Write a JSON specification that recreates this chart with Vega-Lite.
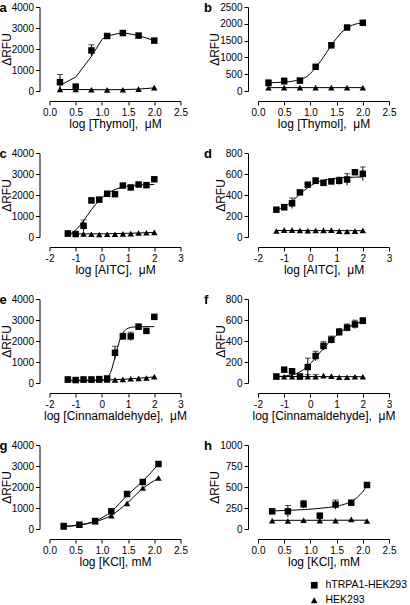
{
"$schema": "https://vega.github.io/schema/vega-lite/v6.json",
"padding": {"left": -0.5, "top": 2, "right": 0, "bottom": 0},
"bounds": "flush",
"columns": 2,
"spacing": {"row": 62, "column": 77.5},
"datasets": {
"points": [
{"p":"a","s":"hTRPA1-HEK293","x":0.2,"y":420,"lo":50,"hi":790},
{"p":"a","s":"hTRPA1-HEK293","x":0.5,"y":210},
{"p":"a","s":"hTRPA1-HEK293","x":0.8,"y":1930,"lo":1660,"hi":2200},
{"p":"a","s":"hTRPA1-HEK293","x":1.1,"y":2620},
{"p":"a","s":"hTRPA1-HEK293","x":1.4,"y":2760,"lo":2670,"hi":2850},
{"p":"a","s":"hTRPA1-HEK293","x":1.7,"y":2640},
{"p":"a","s":"hTRPA1-HEK293","x":2.0,"y":2400},
{"p":"a","s":"HEK293","x":0.2,"y":80},
{"p":"a","s":"HEK293","x":0.5,"y":80},
{"p":"a","s":"HEK293","x":0.8,"y":60},
{"p":"a","s":"HEK293","x":1.1,"y":55},
{"p":"a","s":"HEK293","x":1.4,"y":60},
{"p":"a","s":"HEK293","x":1.7,"y":90},
{"p":"a","s":"HEK293","x":2.0,"y":160},
{"p":"b","s":"hTRPA1-HEK293","x":0.2,"y":240,"lo":150,"hi":330},
{"p":"b","s":"hTRPA1-HEK293","x":0.5,"y":290,"lo":190,"hi":390},
{"p":"b","s":"hTRPA1-HEK293","x":0.8,"y":310},
{"p":"b","s":"hTRPA1-HEK293","x":1.1,"y":720,"lo":670,"hi":770},
{"p":"b","s":"hTRPA1-HEK293","x":1.4,"y":1360,"lo":1290,"hi":1430},
{"p":"b","s":"hTRPA1-HEK293","x":1.7,"y":1890},
{"p":"b","s":"hTRPA1-HEK293","x":2.0,"y":2030},
{"p":"b","s":"HEK293","x":0.2,"y":100},
{"p":"b","s":"HEK293","x":0.5,"y":100},
{"p":"b","s":"HEK293","x":0.8,"y":100},
{"p":"b","s":"HEK293","x":1.1,"y":100},
{"p":"b","s":"HEK293","x":1.4,"y":100},
{"p":"b","s":"HEK293","x":1.7,"y":100},
{"p":"b","s":"HEK293","x":2.0,"y":95},
{"p":"c","s":"hTRPA1-HEK293","x":-1.3,"y":170},
{"p":"c","s":"hTRPA1-HEK293","x":-1.0,"y":140},
{"p":"c","s":"hTRPA1-HEK293","x":-0.7,"y":535,"lo":260,"hi":810},
{"p":"c","s":"hTRPA1-HEK293","x":-0.4,"y":1740,"lo":1620,"hi":1860},
{"p":"c","s":"hTRPA1-HEK293","x":-0.1,"y":1780},
{"p":"c","s":"hTRPA1-HEK293","x":0.2,"y":2060},
{"p":"c","s":"hTRPA1-HEK293","x":0.5,"y":2040},
{"p":"c","s":"hTRPA1-HEK293","x":0.8,"y":2450},
{"p":"c","s":"hTRPA1-HEK293","x":1.1,"y":2360},
{"p":"c","s":"hTRPA1-HEK293","x":1.4,"y":2500},
{"p":"c","s":"hTRPA1-HEK293","x":1.7,"y":2470},
{"p":"c","s":"hTRPA1-HEK293","x":2.0,"y":2750},
{"p":"c","s":"HEK293","x":-1.3,"y":150},
{"p":"c","s":"HEK293","x":-1.0,"y":150},
{"p":"c","s":"HEK293","x":-0.7,"y":140},
{"p":"c","s":"HEK293","x":-0.4,"y":130},
{"p":"c","s":"HEK293","x":-0.1,"y":120},
{"p":"c","s":"HEK293","x":0.2,"y":130},
{"p":"c","s":"HEK293","x":0.5,"y":130},
{"p":"c","s":"HEK293","x":0.8,"y":150},
{"p":"c","s":"HEK293","x":1.1,"y":160},
{"p":"c","s":"HEK293","x":1.4,"y":190},
{"p":"c","s":"HEK293","x":1.7,"y":200},
{"p":"c","s":"HEK293","x":2.0,"y":220},
{"p":"d","s":"hTRPA1-HEK293","x":-1.3,"y":260},
{"p":"d","s":"hTRPA1-HEK293","x":-1.0,"y":283,"lo":255,"hi":311},
{"p":"d","s":"hTRPA1-HEK293","x":-0.7,"y":321,"lo":271,"hi":371},
{"p":"d","s":"hTRPA1-HEK293","x":-0.4,"y":425},
{"p":"d","s":"hTRPA1-HEK293","x":-0.1,"y":498,"lo":483,"hi":513},
{"p":"d","s":"hTRPA1-HEK293","x":0.2,"y":535,"lo":505,"hi":565},
{"p":"d","s":"hTRPA1-HEK293","x":0.5,"y":516},
{"p":"d","s":"hTRPA1-HEK293","x":0.8,"y":529},
{"p":"d","s":"hTRPA1-HEK293","x":1.1,"y":535,"lo":500,"hi":570},
{"p":"d","s":"hTRPA1-HEK293","x":1.4,"y":548,"lo":493,"hi":603},
{"p":"d","s":"hTRPA1-HEK293","x":1.7,"y":617},
{"p":"d","s":"hTRPA1-HEK293","x":2.0,"y":602,"lo":537,"hi":667},
{"p":"d","s":"HEK293","x":-1.3,"y":57},
{"p":"d","s":"HEK293","x":-1.0,"y":65},
{"p":"d","s":"HEK293","x":-0.7,"y":65},
{"p":"d","s":"HEK293","x":-0.4,"y":62},
{"p":"d","s":"HEK293","x":-0.1,"y":60},
{"p":"d","s":"HEK293","x":0.2,"y":62},
{"p":"d","s":"HEK293","x":0.5,"y":63},
{"p":"d","s":"HEK293","x":0.8,"y":66},
{"p":"d","s":"HEK293","x":1.1,"y":56},
{"p":"d","s":"HEK293","x":1.4,"y":53},
{"p":"d","s":"HEK293","x":1.7,"y":56},
{"p":"d","s":"HEK293","x":2.0,"y":62},
{"p":"e","s":"hTRPA1-HEK293","x":-1.3,"y":170},
{"p":"e","s":"hTRPA1-HEK293","x":-1.0,"y":140},
{"p":"e","s":"hTRPA1-HEK293","x":-0.7,"y":170},
{"p":"e","s":"hTRPA1-HEK293","x":-0.4,"y":170},
{"p":"e","s":"hTRPA1-HEK293","x":-0.1,"y":185},
{"p":"e","s":"hTRPA1-HEK293","x":0.2,"y":215},
{"p":"e","s":"hTRPA1-HEK293","x":0.5,"y":1440,"lo":1130,"hi":1750},
{"p":"e","s":"hTRPA1-HEK293","x":0.8,"y":2220,"lo":2070,"hi":2370},
{"p":"e","s":"hTRPA1-HEK293","x":1.1,"y":2220,"lo":2020,"hi":2420},
{"p":"e","s":"hTRPA1-HEK293","x":1.4,"y":2680,"lo":2560,"hi":2800},
{"p":"e","s":"hTRPA1-HEK293","x":1.7,"y":2480},
{"p":"e","s":"hTRPA1-HEK293","x":2.0,"y":3150},
{"p":"e","s":"HEK293","x":-1.3,"y":150},
{"p":"e","s":"HEK293","x":-1.0,"y":130},
{"p":"e","s":"HEK293","x":-0.7,"y":140},
{"p":"e","s":"HEK293","x":-0.4,"y":140},
{"p":"e","s":"HEK293","x":-0.1,"y":150},
{"p":"e","s":"HEK293","x":0.2,"y":150},
{"p":"e","s":"HEK293","x":0.5,"y":150},
{"p":"e","s":"HEK293","x":0.8,"y":170},
{"p":"e","s":"HEK293","x":1.1,"y":200},
{"p":"e","s":"HEK293","x":1.4,"y":220},
{"p":"e","s":"HEK293","x":1.7,"y":240},
{"p":"e","s":"HEK293","x":2.0,"y":300},
{"p":"f","s":"hTRPA1-HEK293","x":-1.3,"y":62},
{"p":"f","s":"hTRPA1-HEK293","x":-1.0,"y":127},
{"p":"f","s":"hTRPA1-HEK293","x":-0.7,"y":112},
{"p":"f","s":"hTRPA1-HEK293","x":-0.4,"y":62},
{"p":"f","s":"hTRPA1-HEK293","x":-0.1,"y":152,"lo":67,"hi":237},
{"p":"f","s":"hTRPA1-HEK293","x":0.2,"y":257,"lo":212,"hi":302},
{"p":"f","s":"hTRPA1-HEK293","x":0.5,"y":353,"lo":313,"hi":393},
{"p":"f","s":"hTRPA1-HEK293","x":0.8,"y":412,"lo":377,"hi":447},
{"p":"f","s":"hTRPA1-HEK293","x":1.1,"y":484,"lo":449,"hi":519},
{"p":"f","s":"hTRPA1-HEK293","x":1.4,"y":527,"lo":492,"hi":562},
{"p":"f","s":"hTRPA1-HEK293","x":1.7,"y":558,"lo":518,"hi":598},
{"p":"f","s":"hTRPA1-HEK293","x":2.0,"y":592,"lo":562,"hi":622},
{"p":"f","s":"HEK293","x":-1.3,"y":60},
{"p":"f","s":"HEK293","x":-1.0,"y":60},
{"p":"f","s":"HEK293","x":-0.7,"y":60},
{"p":"f","s":"HEK293","x":-0.4,"y":60},
{"p":"f","s":"HEK293","x":-0.1,"y":60,"lo":40,"hi":80},
{"p":"f","s":"HEK293","x":0.2,"y":60,"lo":40,"hi":80},
{"p":"f","s":"HEK293","x":0.5,"y":70},
{"p":"f","s":"HEK293","x":0.8,"y":65},
{"p":"f","s":"HEK293","x":1.1,"y":55},
{"p":"f","s":"HEK293","x":1.4,"y":55},
{"p":"f","s":"HEK293","x":1.7,"y":60},
{"p":"f","s":"HEK293","x":2.0,"y":60},
{"p":"g","s":"hTRPA1-HEK293","x":0.27,"y":143},
{"p":"g","s":"hTRPA1-HEK293","x":0.57,"y":206},
{"p":"g","s":"hTRPA1-HEK293","x":0.87,"y":381},
{"p":"g","s":"hTRPA1-HEK293","x":1.18,"y":841},
{"p":"g","s":"hTRPA1-HEK293","x":1.48,"y":1667},
{"p":"g","s":"hTRPA1-HEK293","x":1.78,"y":2238},
{"p":"g","s":"hTRPA1-HEK293","x":2.08,"y":3095},
{"p":"g","s":"HEK293","x":0.27,"y":95},
{"p":"g","s":"HEK293","x":0.57,"y":180},
{"p":"g","s":"HEK293","x":0.87,"y":350},
{"p":"g","s":"HEK293","x":1.18,"y":635},
{"p":"g","s":"HEK293","x":1.48,"y":1222},
{"p":"g","s":"HEK293","x":1.78,"y":1952},
{"p":"g","s":"HEK293","x":2.08,"y":2429},
{"p":"h","s":"hTRPA1-HEK293","x":0.27,"y":210},
{"p":"h","s":"hTRPA1-HEK293","x":0.57,"y":210,"lo":140,"hi":280},
{"p":"h","s":"hTRPA1-HEK293","x":0.87,"y":294,"lo":249,"hi":339},
{"p":"h","s":"hTRPA1-HEK293","x":1.18,"y":159},
{"p":"h","s":"hTRPA1-HEK293","x":1.48,"y":290,"lo":235,"hi":345},
{"p":"h","s":"hTRPA1-HEK293","x":1.78,"y":313},
{"p":"h","s":"hTRPA1-HEK293","x":2.08,"y":524},
{"p":"h","s":"HEK293","x":0.27,"y":99},
{"p":"h","s":"HEK293","x":0.57,"y":95},
{"p":"h","s":"HEK293","x":0.87,"y":105},
{"p":"h","s":"HEK293","x":1.18,"y":100},
{"p":"h","s":"HEK293","x":1.48,"y":100},
{"p":"h","s":"HEK293","x":1.78,"y":115},
{"p":"h","s":"HEK293","x":2.08,"y":95}
],
"curves": [
{"p":"a","s":"T","x":0.2,"y":270},{"p":"a","s":"T","x":0.5,"y":660},{"p":"a","s":"T","x":0.8,"y":1650},{"p":"a","s":"T","x":1.0,"y":2450},{"p":"a","s":"T","x":1.1,"y":2620},{"p":"a","s":"T","x":1.4,"y":2780},{"p":"a","s":"T","x":1.7,"y":2640},{"p":"a","s":"T","x":2.0,"y":2400},
{"p":"a","s":"H","x":0.2,"y":70},{"p":"a","s":"H","x":0.5,"y":70},{"p":"a","s":"H","x":0.8,"y":65},{"p":"a","s":"H","x":1.1,"y":60},{"p":"a","s":"H","x":1.4,"y":65},{"p":"a","s":"H","x":1.7,"y":90},{"p":"a","s":"H","x":2.0,"y":150},
{"p":"b","s":"T","x":0.2,"y":245},{"p":"b","s":"T","x":0.4,"y":255},{"p":"b","s":"T","x":0.6,"y":280},{"p":"b","s":"T","x":0.8,"y":340},{"p":"b","s":"T","x":0.9,"y":400},{"p":"b","s":"T","x":1.0,"y":520},{"p":"b","s":"T","x":1.1,"y":700},{"p":"b","s":"T","x":1.2,"y":900},{"p":"b","s":"T","x":1.3,"y":1130},{"p":"b","s":"T","x":1.4,"y":1360},{"p":"b","s":"T","x":1.5,"y":1570},{"p":"b","s":"T","x":1.6,"y":1750},{"p":"b","s":"T","x":1.7,"y":1880},{"p":"b","s":"T","x":1.8,"y":1960},{"p":"b","s":"T","x":1.9,"y":2005},{"p":"b","s":"T","x":2.0,"y":2030},
{"p":"b","s":"H","x":0.2,"y":100},{"p":"b","s":"H","x":2.0,"y":100},
{"p":"c","s":"T","x":-1.3,"y":100},{"p":"c","s":"T","x":-1.0,"y":330},{"p":"c","s":"T","x":-0.7,"y":780},{"p":"c","s":"T","x":-0.4,"y":1300},{"p":"c","s":"T","x":-0.1,"y":1750},{"p":"c","s":"T","x":0.2,"y":2060},{"p":"c","s":"T","x":0.5,"y":2260},{"p":"c","s":"T","x":0.8,"y":2380},{"p":"c","s":"T","x":1.1,"y":2440},{"p":"c","s":"T","x":1.4,"y":2475},{"p":"c","s":"T","x":1.7,"y":2490},{"p":"c","s":"T","x":2.0,"y":2500},
{"p":"c","s":"H","x":-1.3,"y":145},{"p":"c","s":"H","x":0.0,"y":150},{"p":"c","s":"H","x":1.0,"y":175},{"p":"c","s":"H","x":2.0,"y":215},
{"p":"d","s":"T","x":-1.3,"y":255},{"p":"d","s":"T","x":-1.0,"y":290},{"p":"d","s":"T","x":-0.7,"y":340},{"p":"d","s":"T","x":-0.4,"y":410},{"p":"d","s":"T","x":-0.1,"y":470},{"p":"d","s":"T","x":0.2,"y":515},{"p":"d","s":"T","x":0.5,"y":540},{"p":"d","s":"T","x":0.8,"y":555},{"p":"d","s":"T","x":1.1,"y":563},{"p":"d","s":"T","x":1.4,"y":567},{"p":"d","s":"T","x":1.7,"y":570},{"p":"d","s":"T","x":2.0,"y":572},
{"p":"d","s":"H","x":-1.3,"y":62},{"p":"d","s":"H","x":2.0,"y":60},
{"p":"e","s":"T","x":-1.3,"y":110},{"p":"e","s":"T","x":-0.5,"y":110},{"p":"e","s":"T","x":0.0,"y":120},{"p":"e","s":"T","x":0.1,"y":160},{"p":"e","s":"T","x":0.2,"y":240},{"p":"e","s":"T","x":0.3,"y":420},{"p":"e","s":"T","x":0.4,"y":760},{"p":"e","s":"T","x":0.5,"y":1230},{"p":"e","s":"T","x":0.6,"y":1700},{"p":"e","s":"T","x":0.7,"y":2100},{"p":"e","s":"T","x":0.8,"y":2380},{"p":"e","s":"T","x":0.9,"y":2530},{"p":"e","s":"T","x":1.0,"y":2610},{"p":"e","s":"T","x":1.2,"y":2665},{"p":"e","s":"T","x":1.5,"y":2680},{"p":"e","s":"T","x":2.0,"y":2685},
{"p":"e","s":"H","x":-1.3,"y":130},{"p":"e","s":"H","x":0.0,"y":140},{"p":"e","s":"H","x":1.0,"y":190},{"p":"e","s":"H","x":2.0,"y":290},
{"p":"f","s":"T","x":-1.3,"y":62},{"p":"f","s":"T","x":-1.0,"y":66},{"p":"f","s":"T","x":-0.7,"y":78},{"p":"f","s":"T","x":-0.4,"y":105},{"p":"f","s":"T","x":-0.1,"y":160},{"p":"f","s":"T","x":0.2,"y":240},{"p":"f","s":"T","x":0.5,"y":330},{"p":"f","s":"T","x":0.8,"y":410},{"p":"f","s":"T","x":1.1,"y":475},{"p":"f","s":"T","x":1.4,"y":525},{"p":"f","s":"T","x":1.7,"y":560},{"p":"f","s":"T","x":2.0,"y":585},
{"p":"f","s":"H","x":-1.3,"y":62},{"p":"f","s":"H","x":2.0,"y":60},
{"p":"g","s":"T","x":0.27,"y":130},{"p":"g","s":"T","x":0.57,"y":195},{"p":"g","s":"T","x":0.87,"y":380},{"p":"g","s":"T","x":1.18,"y":830},{"p":"g","s":"T","x":1.48,"y":1600},{"p":"g","s":"T","x":1.78,"y":2280},{"p":"g","s":"T","x":2.08,"y":3080},
{"p":"g","s":"H","x":0.27,"y":110},{"p":"g","s":"H","x":0.57,"y":185},{"p":"g","s":"H","x":0.87,"y":345},{"p":"g","s":"H","x":1.18,"y":650},{"p":"g","s":"H","x":1.48,"y":1230},{"p":"g","s":"H","x":1.78,"y":1930},{"p":"g","s":"H","x":2.08,"y":2420},
{"p":"h","s":"T","x":0.27,"y":215},{"p":"h","s":"T","x":0.6,"y":222},{"p":"h","s":"T","x":0.9,"y":232},{"p":"h","s":"T","x":1.2,"y":247},{"p":"h","s":"T","x":1.5,"y":272},{"p":"h","s":"T","x":1.7,"y":305},{"p":"h","s":"T","x":1.8,"y":335},{"p":"h","s":"T","x":1.9,"y":380},{"p":"h","s":"T","x":2.0,"y":445},{"p":"h","s":"T","x":2.08,"y":520},
{"p":"h","s":"H","x":0.27,"y":103},{"p":"h","s":"H","x":2.08,"y":105}
]
},
"concat": [
{"width":131,"height":84,"title":{"text":"a","dx":-50},
"encoding":{"x":{"field":"x","type":"quantitative","scale":{"domain":[0,2.5],"nice":false,"zero":false},"axis":{"values":[0,0.5,1,1.5,2,2.5],"format":".1f","title":"log [Thymol], \u00a0μM"}},
"y":{"field":"y","type":"quantitative","scale":{"domain":[0,4000],"nice":false},"axis":{"values":[0,1000,2000,3000,4000],"format":"d","title":"ΔRFU"}}},
"layer":[
{"data":{"name":"curves"},"transform":[{"filter":"datum.p=='a'"}],"mark":{"type":"line","color":"black","strokeWidth":1,"interpolate":"linear"},"encoding":{"detail":{"field":"s"}}},
{"data":{"name":"points"},"transform":[{"filter":"datum.p=='a' && isValid(datum.lo)"}],"mark":{"type":"rule","color":"black"},"encoding":{"y":{"field":"lo","type":"quantitative"},"y2":{"field":"hi"}}},
{"data":{"name":"points"},"transform":[{"filter":"datum.p=='a' && isValid(datum.lo)"}],"mark":{"type":"tick","color":"black","orient":"horizontal","size":6,"thickness":1},"encoding":{"y":{"field":"hi","type":"quantitative"}}},
{"data":{"name":"points"},"transform":[{"filter":"datum.p=='a'"}],"mark":{"type":"point","filled":true,"color":"black","opacity":1,"size":42},
"encoding":{"shape":{"field":"s","type":"nominal","scale":{"domain":["hTRPA1-HEK293","HEK293"],"range":["square","triangle-up"]},"legend":{"title":null}}}}
]},
{"width":131,"height":84,"title":{"text":"b","dx":-54},
"encoding":{"x":{"field":"x","type":"quantitative","scale":{"domain":[0,2.5],"nice":false,"zero":false},"axis":{"values":[0,0.5,1,1.5,2,2.5],"format":".1f","title":"log [Thymol], \u00a0μM"}},
"y":{"field":"y","type":"quantitative","scale":{"domain":[0,2500],"nice":false},"axis":{"values":[0,500,1000,1500,2000,2500],"format":"d","title":"ΔRFU"}}},
"layer":[
{"data":{"name":"curves"},"transform":[{"filter":"datum.p=='b'"}],"mark":{"type":"line","color":"black","strokeWidth":1,"interpolate":"monotone"},"encoding":{"detail":{"field":"s"}}},
{"data":{"name":"points"},"transform":[{"filter":"datum.p=='b' && isValid(datum.lo)"}],"mark":{"type":"rule","color":"black"},"encoding":{"y":{"field":"lo","type":"quantitative"},"y2":{"field":"hi"}}},
{"data":{"name":"points"},"transform":[{"filter":"datum.p=='b' && isValid(datum.lo)"}],"mark":{"type":"tick","color":"black","orient":"horizontal","size":6,"thickness":1},"encoding":{"y":{"field":"hi","type":"quantitative"}}},
{"data":{"name":"points"},"transform":[{"filter":"datum.p=='b'"}],"mark":{"type":"point","filled":true,"color":"black","opacity":1,"size":42},
"encoding":{"shape":{"field":"s","type":"nominal","scale":{"domain":["hTRPA1-HEK293","HEK293"],"range":["square","triangle-up"]},"legend":{"title":null}}}}
]},
{"width":131,"height":84,"title":{"text":"c","dx":-50},
"encoding":{"x":{"field":"x","type":"quantitative","scale":{"domain":[-2,3],"nice":false,"zero":false},"axis":{"values":[-2,-1,0,1,2,3],"labelExpr":"'' + datum.value","title":"log [AITC], \u00a0μM"}},
"y":{"field":"y","type":"quantitative","scale":{"domain":[0,4000],"nice":false},"axis":{"values":[0,1000,2000,3000,4000],"format":"d","title":"ΔRFU"}}},
"layer":[
{"data":{"name":"curves"},"transform":[{"filter":"datum.p=='c'"}],"mark":{"type":"line","color":"black","strokeWidth":1,"interpolate":"monotone"},"encoding":{"detail":{"field":"s"}}},
{"data":{"name":"points"},"transform":[{"filter":"datum.p=='c' && isValid(datum.lo)"}],"mark":{"type":"rule","color":"black"},"encoding":{"y":{"field":"lo","type":"quantitative"},"y2":{"field":"hi"}}},
{"data":{"name":"points"},"transform":[{"filter":"datum.p=='c' && isValid(datum.lo)"}],"mark":{"type":"tick","color":"black","orient":"horizontal","size":6,"thickness":1},"encoding":{"y":{"field":"hi","type":"quantitative"}}},
{"data":{"name":"points"},"transform":[{"filter":"datum.p=='c'"}],"mark":{"type":"point","filled":true,"color":"black","opacity":1,"size":42},
"encoding":{"shape":{"field":"s","type":"nominal","scale":{"domain":["hTRPA1-HEK293","HEK293"],"range":["square","triangle-up"]},"legend":{"title":null}}}}
]},
{"width":131,"height":84,"title":{"text":"d","dx":-54},
"encoding":{"x":{"field":"x","type":"quantitative","scale":{"domain":[-2,3],"nice":false,"zero":false},"axis":{"values":[-2,-1,0,1,2,3],"labelExpr":"'' + datum.value","title":"log [AITC], \u00a0μM"}},
"y":{"field":"y","type":"quantitative","scale":{"domain":[0,800],"nice":false},"axis":{"values":[0,200,400,600,800],"format":"d","title":"ΔRFU"}}},
"layer":[
{"data":{"name":"curves"},"transform":[{"filter":"datum.p=='d'"}],"mark":{"type":"line","color":"black","strokeWidth":1,"interpolate":"monotone"},"encoding":{"detail":{"field":"s"}}},
{"data":{"name":"points"},"transform":[{"filter":"datum.p=='d' && isValid(datum.lo)"}],"mark":{"type":"rule","color":"black"},"encoding":{"y":{"field":"lo","type":"quantitative"},"y2":{"field":"hi"}}},
{"data":{"name":"points"},"transform":[{"filter":"datum.p=='d' && isValid(datum.lo)"}],"mark":{"type":"tick","color":"black","orient":"horizontal","size":6,"thickness":1},"encoding":{"y":{"field":"hi","type":"quantitative"}}},
{"data":{"name":"points"},"transform":[{"filter":"datum.p=='d'"}],"mark":{"type":"point","filled":true,"color":"black","opacity":1,"size":42},
"encoding":{"shape":{"field":"s","type":"nominal","scale":{"domain":["hTRPA1-HEK293","HEK293"],"range":["square","triangle-up"]},"legend":{"title":null}}}}
]},
{"width":131,"height":84,"title":{"text":"e","dx":-50},
"encoding":{"x":{"field":"x","type":"quantitative","scale":{"domain":[-2,3],"nice":false,"zero":false},"axis":{"values":[-2,-1,0,1,2,3],"labelExpr":"'' + datum.value","title":"log [Cinnamaldehyde], \u00a0μM"}},
"y":{"field":"y","type":"quantitative","scale":{"domain":[0,4000],"nice":false},"axis":{"values":[0,1000,2000,3000,4000],"format":"d","title":"ΔRFU"}}},
"layer":[
{"data":{"name":"curves"},"transform":[{"filter":"datum.p=='e'"}],"mark":{"type":"line","color":"black","strokeWidth":1,"interpolate":"monotone"},"encoding":{"detail":{"field":"s"}}},
{"data":{"name":"points"},"transform":[{"filter":"datum.p=='e' && isValid(datum.lo)"}],"mark":{"type":"rule","color":"black"},"encoding":{"y":{"field":"lo","type":"quantitative"},"y2":{"field":"hi"}}},
{"data":{"name":"points"},"transform":[{"filter":"datum.p=='e' && isValid(datum.lo)"}],"mark":{"type":"tick","color":"black","orient":"horizontal","size":6,"thickness":1},"encoding":{"y":{"field":"hi","type":"quantitative"}}},
{"data":{"name":"points"},"transform":[{"filter":"datum.p=='e'"}],"mark":{"type":"point","filled":true,"color":"black","opacity":1,"size":42},
"encoding":{"shape":{"field":"s","type":"nominal","scale":{"domain":["hTRPA1-HEK293","HEK293"],"range":["square","triangle-up"]},"legend":{"title":null}}}}
]},
{"width":131,"height":84,"title":{"text":"f","dx":-54},
"encoding":{"x":{"field":"x","type":"quantitative","scale":{"domain":[-2,3],"nice":false,"zero":false},"axis":{"values":[-2,-1,0,1,2,3],"labelExpr":"'' + datum.value","title":"log [Cinnamaldehyde], \u00a0μM"}},
"y":{"field":"y","type":"quantitative","scale":{"domain":[0,800],"nice":false},"axis":{"values":[0,200,400,600,800],"format":"d","title":"ΔRFU"}}},
"layer":[
{"data":{"name":"curves"},"transform":[{"filter":"datum.p=='f'"}],"mark":{"type":"line","color":"black","strokeWidth":1,"interpolate":"monotone"},"encoding":{"detail":{"field":"s"}}},
{"data":{"name":"points"},"transform":[{"filter":"datum.p=='f' && isValid(datum.lo)"}],"mark":{"type":"rule","color":"black"},"encoding":{"y":{"field":"lo","type":"quantitative"},"y2":{"field":"hi"}}},
{"data":{"name":"points"},"transform":[{"filter":"datum.p=='f' && isValid(datum.lo)"}],"mark":{"type":"tick","color":"black","orient":"horizontal","size":6,"thickness":1},"encoding":{"y":{"field":"hi","type":"quantitative"}}},
{"data":{"name":"points"},"transform":[{"filter":"datum.p=='f'"}],"mark":{"type":"point","filled":true,"color":"black","opacity":1,"size":42},
"encoding":{"shape":{"field":"s","type":"nominal","scale":{"domain":["hTRPA1-HEK293","HEK293"],"range":["square","triangle-up"]},"legend":{"title":null}}}}
]},
{"width":131,"height":84,"title":{"text":"g","dx":-50},
"encoding":{"x":{"field":"x","type":"quantitative","scale":{"domain":[0,2.5],"nice":false,"zero":false},"axis":{"values":[0,0.5,1,1.5,2,2.5],"format":".1f","title":"log [KCl], mM"}},
"y":{"field":"y","type":"quantitative","scale":{"domain":[0,4000],"nice":false},"axis":{"values":[0,1000,2000,3000,4000],"format":"d","title":"ΔRFU"}}},
"layer":[
{"data":{"name":"curves"},"transform":[{"filter":"datum.p=='g'"}],"mark":{"type":"line","color":"black","strokeWidth":1,"interpolate":"monotone"},"encoding":{"detail":{"field":"s"}}},
{"data":{"name":"points"},"transform":[{"filter":"datum.p=='g'"}],"mark":{"type":"point","filled":true,"color":"black","opacity":1,"size":42},
"encoding":{"shape":{"field":"s","type":"nominal","scale":{"domain":["hTRPA1-HEK293","HEK293"],"range":["square","triangle-up"]},"legend":{"title":null}}}}
]},
{"width":131,"height":84,"title":{"text":"h","dx":-54},
"encoding":{"x":{"field":"x","type":"quantitative","scale":{"domain":[0,2.5],"nice":false,"zero":false},"axis":{"values":[0,0.5,1,1.5,2,2.5],"format":".1f","title":"log [KCl], mM"}},
"y":{"field":"y","type":"quantitative","scale":{"domain":[0,1000],"nice":false},"axis":{"values":[0,250,500,750,1000],"format":"d","title":"ΔRFU"}}},
"layer":[
{"data":{"name":"curves"},"transform":[{"filter":"datum.p=='h'"}],"mark":{"type":"line","color":"black","strokeWidth":1,"interpolate":"monotone"},"encoding":{"detail":{"field":"s"}}},
{"data":{"name":"points"},"transform":[{"filter":"datum.p=='h' && isValid(datum.lo)"}],"mark":{"type":"rule","color":"black"},"encoding":{"y":{"field":"lo","type":"quantitative"},"y2":{"field":"hi"}}},
{"data":{"name":"points"},"transform":[{"filter":"datum.p=='h' && isValid(datum.lo)"}],"mark":{"type":"tick","color":"black","orient":"horizontal","size":6,"thickness":1},"encoding":{"y":{"field":"hi","type":"quantitative"}}},
{"data":{"name":"points"},"transform":[{"filter":"datum.p=='h'"}],"mark":{"type":"point","filled":true,"color":"black","opacity":1,"size":42},
"encoding":{"shape":{"field":"s","type":"nominal","scale":{"domain":["hTRPA1-HEK293","HEK293"],"range":["square","triangle-up"]},"legend":{"title":null}}}}
]}
],
"config": {
"view": {"stroke": null},
"font": "Liberation Sans",
"axis": {"grid": false, "domainColor": "black", "tickColor": "black", "labelColor": "black", "titleColor": "black", "labelFontSize": 10, "titleFontSize": 12, "titleFontWeight": "normal", "tickSize": 4, "offset": 10, "labelPadding": 2, "domainWidth": 1, "tickWidth": 1, "labelFont": "Liberation Sans", "titleFont": "Liberation Sans"},
"axisX": {"titlePadding": 1, "labelPadding": 2, "labelFlush": false},
"axisY": {"titlePadding": -2, "labelFlush": false},
"legend": {"orient": "none", "legendX": 259.5, "legendY": 573, "labelFontSize": 10.5, "labelFont": "Liberation Sans", "labelColor": "black", "symbolSize": 45, "rowPadding": 2, "padding": 0, "labelOffset": 6},
"title": {"anchor": "start", "frame": "group", "fontSize": 13, "fontWeight": "bold", "font": "Liberation Sans", "color": "black", "offset": 0, "baseline": "alphabetic", "dy": 17}
}
}
